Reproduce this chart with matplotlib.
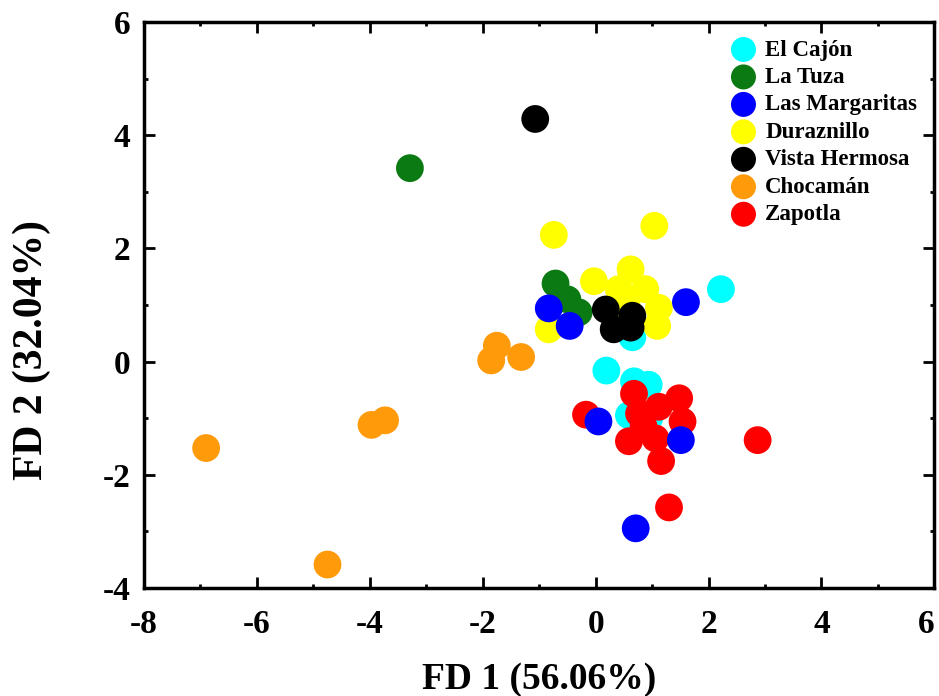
import numpy as np
import matplotlib
matplotlib.use("Agg")
import matplotlib.pyplot as plt
from matplotlib.ticker import MultipleLocator

# FD scores, one pair of lists per site
cajon_x = [2.22, 0.65, 0.19, 0.68, 0.94, 0.59, 0.95]
cajon_y = [1.28, 0.43, -0.16, -0.35, -0.41, -0.95, -1.00]
tuza_x = [-3.29, -0.71, -0.50, -0.30]
tuza_y = [3.42, 1.38, 1.10, 0.87]
marg_x = [-0.83, -0.46, 1.60, 0.05, 1.51, 0.71]
marg_y = [0.94, 0.63, 1.05, -1.06, -1.39, -2.95]
duraz_x = [-0.74, 1.04, -0.03, 0.62, 0.41, 0.88, 1.12, 1.09, -0.83, 0.55]
duraz_y = [2.24, 2.40, 1.42, 1.63, 1.28, 1.28, 0.95, 0.63, 0.57, 1.00]
vista_x = [-1.07, 0.18, 0.65, 0.32, 0.62]
vista_y = [4.29, 0.92, 0.81, 0.57, 0.60]
choc_x = [-6.90, -4.75, -3.97, -3.73, -1.85, -1.75, -1.32]
choc_y = [-1.53, -3.59, -1.12, -1.04, 0.02, 0.28, 0.08]
zapo_x = [0.68, -0.17, 0.77, 1.12, 1.48, 1.54, 0.59, 1.06, 1.16, 2.87, 1.30, 0.85]
zapo_y = [-0.57, -0.94, -0.92, -0.80, -0.65, -1.06, -1.41, -1.36, -1.76, -1.39, -2.58, -1.15]

names = ["El Cajón", "La Tuza", "Las Margaritas", "Duraznillo", "Vista Hermosa", "Chocamán", "Zapotla"]
colors = ["#00FFFF", "#0B7A12", "#0000FF", "#FFFF00", "#000000", "#FF9A0A", "#FF0000"]
xticks = [-8, -6, -4, -2, 0, 2, 4, 6]
yticks = [-4, -2, 0, 2, 4, 6]

plt.rcParams['font.family'] = ['Liberation Serif', 'DejaVu Serif']
plt.rcParams['font.weight'] = 'bold'
plt.rcParams['axes.unicode_minus'] = False # plain hyphen like the original

fig = plt.figure(figsize=(9.39, 6.96), dpi=100)
ax = fig.add_axes([0.1534, 0.1556, 0.8416, 0.8124])

xs = [cajon_x, tuza_x, marg_x, duraz_x, vista_x, choc_x, zapo_x]
ys = [cajon_y, tuza_y, marg_y, duraz_y, vista_y, choc_y, zapo_y]
zo = [2, 4, 6, 3, 7, 8, 5] # drawing order as seen in the overlaps
for i in range(len(names)):
	ax.scatter(xs[i], ys[i], s=400, c=colors[i], edgecolors='none', label=names[i], zorder=zo[i])

ax.set_xlim(-8, 6)
ax.set_ylim(-4, 6)
ax.set_xticks(xticks, [str(v) for v in xticks])
ax.set_yticks(yticks, [str(v) for v in yticks])
ax.xaxis.set_minor_locator(MultipleLocator(1))
ax.yaxis.set_minor_locator(MultipleLocator(1))
ax.tick_params(which='both', direction='in', top=True, right=True, width=2, labelsize=24)
ax.tick_params(axis='x', pad=15)
ax.tick_params(axis='y', pad=10)
ax.tick_params(which='major', length=8)
ax.tick_params(which='minor', length=3)
for sp in ax.spines.values():
	sp.set_linewidth(2.5)
ax.get_xticklabels()[-1].set_horizontalalignment('right') # keep the last "6" inside the figure

ax.set_xlabel("FD 1 (56.06%)", fontsize=27, fontweight='bold', labelpad=16)
ax.set_ylabel("FD 2 (32.04%)", fontsize=30, fontweight='bold')
ax.yaxis.set_label_coords(-0.118, 0.42)

leg = ax.legend(loc='upper right', frameon=False, fontsize=16.5, markerscale=0.9, handletextpad=0.35,
	labelspacing=0.28, borderaxespad=0.35, handlelength=1.2, scatterpoints=1)
for t in leg.get_texts():
	t.set_fontweight('bold')

fig.savefig("out.png", dpi=100)
